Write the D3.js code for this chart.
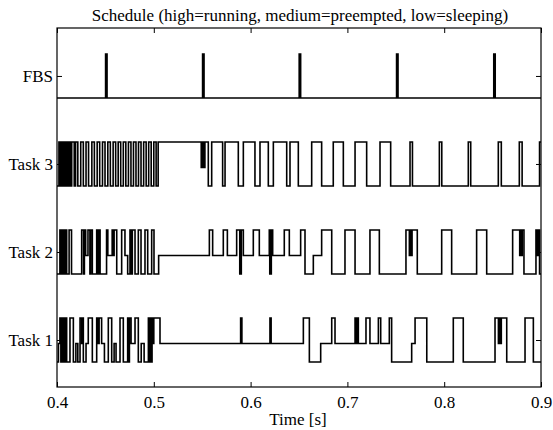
<!DOCTYPE html>
<html>
<head>
<meta charset="utf-8">
<script src="https://cdn.jsdelivr.net/npm/d3@7"></script>
<style>
  html, body { margin: 0; padding: 0; background: #fff; }
  svg { display: block; }
  text { font-family: "Liberation Serif", "Times New Roman", serif; fill: #000; }
</style>
</head>
<body>
<svg id="chart" width="553" height="430"></svg>
<script>
// ---- data ----
const rowLabels = ["Task 1", "Task 2", "Task 3", "FBS"];
const rowValues = [1, 2, 3, 4];
const xTicks = [0.4, 0.5, 0.6, 0.7, 0.8, 0.9];
const titleText = "Schedule (high=running, medium=preempted, low=sleeping)";
const xLabelText = "Time [s]";
// level codes: 0 = low (sleeping), 1 = medium (preempted), 2 = high (running)
const levelOffsets = [-0.25, -0.04, 0.25];

const fbs = [[0.4000,0],[0.4502,2],[0.4517,0],[0.5504,2],[0.5519,0],[0.6502,2],[0.6517,0],[0.7508,2],[0.7523,0],[0.8512,2],[0.8527,0]];

const task3 = [[0.4000,0],[0.4020,2],[0.4032,0],[0.4040,2],[0.4052,0],[0.4060,2],[0.4072,0],[0.4080,2],[0.4095,0],[0.4103,2],[0.4118,0],[0.4128,2],[0.4140,0],[0.4152,2],[0.4178,0],[0.4192,2],[0.4215,0],
 [0.4245,2],[0.4272,0],[0.4300,2],[0.4326,0],[0.4360,2],[0.4386,0],[0.4415,2],[0.4441,0],[0.4470,2],[0.4496,0],[0.4525,2],[0.4551,0],[0.4580,2],[0.4606,0],[0.4632,2],[0.4658,0],[0.4685,2],[0.4711,0],[0.4738,2],[0.4764,0],[0.4790,2],[0.4816,0],[0.4842,2],[0.4868,0],[0.4895,2],[0.4921,0],[0.4947,2],[0.4973,0],[0.5000,2],[0.5024,0],[0.5045,2],
 [0.5490,1],[0.5496,2],[0.5500,1],[0.5506,2],[0.5510,1],[0.5516,2],[0.5520,1],[0.5528,2],
 [0.5563,0],[0.5598,2],[0.5711,0],[0.5736,2],[0.5873,0],[0.5925,2],[0.6045,0],[0.6097,2],[0.6183,0],[0.6235,2],[0.6373,0],[0.6407,2],[0.6493,0],[0.6631,2],[0.6734,0],[0.6854,2],[0.6958,0],[0.7079,2],[0.7199,0],[0.7337,2],[0.7447,0],
 [0.7647,2],[0.7672,0],[0.7950,2],[0.7975,0],[0.8249,2],[0.8274,0],[0.8559,2],[0.8590,0],[0.8776,2],[0.8805,0],[0.8985,2]];

const task2 = [[0.4000,0],[0.4030,2],[0.4040,0],[0.4048,2],[0.4060,0],[0.4068,2],[0.4080,0],[0.4088,2],[0.4100,0],
 [0.4125,2],[0.4150,0],
 [0.4255,2],[0.4275,0],[0.4283,2],[0.4296,1],[0.4320,2],[0.4340,0],[0.4348,2],[0.4365,0],
 [0.4410,2],[0.4425,0],[0.4432,2],[0.4445,0],
 [0.4512,2],[0.4525,1],[0.4570,2],[0.4580,1],[0.4590,2],[0.4617,0],
 [0.4668,2],[0.4702,1],[0.4730,0],[0.4754,2],[0.4768,0],[0.4778,2],[0.4806,0],
 [0.4840,2],[0.4868,0],[0.4909,2],[0.4937,0],[0.4978,2],[0.5002,0],[0.5050,1],
 [0.5574,2],[0.5608,1],[0.5718,2],[0.5760,1],[0.5856,2],[0.5888,0],[0.5894,2],[0.5898,0],[0.5904,2],[0.5925,1],[0.6028,2],[0.6090,1],
 [0.6193,2],[0.6198,0],[0.6204,2],[0.6208,0],[0.6214,2],[0.6228,1],[0.6348,2],[0.6400,1],[0.6517,2],[0.6562,0],[0.6648,1],[0.6734,2],[0.6838,0],[0.6975,2],[0.7079,0],
 [0.7233,2],[0.7330,0],[0.7605,2],[0.7640,1],[0.7648,2],[0.7658,1],[0.7668,2],[0.7722,0],[0.7974,2],[0.8077,0],[0.8335,2],[0.8439,0],
 [0.8707,2],[0.8780,1],[0.8788,2],[0.8798,1],[0.8806,2],[0.8824,0],[0.8948,2],[0.8960,1],[0.8970,2],[0.8985,0]];

const task1 = [[0.4000,0],[0.4015,1],[0.4030,2],[0.4040,0],[0.4048,2],[0.4058,0],[0.4066,2],[0.4078,0],[0.4086,2],[0.4100,0],
 [0.4134,2],[0.4169,0],[0.4195,1],[0.4215,0],
 [0.4238,2],[0.4255,1],[0.4262,2],[0.4272,0],[0.4300,1],[0.4323,2],[0.4365,0],
 [0.4410,2],[0.4425,1],[0.4435,2],[0.4461,1],[0.4490,0],
 [0.4530,2],[0.4565,0],[0.4590,1],[0.4610,0],[0.4651,2],[0.4685,0],
 [0.4730,2],[0.4740,0],[0.4748,2],[0.4765,1],[0.4806,2],[0.4840,0],
 [0.4870,1],[0.4900,0],[0.4944,2],[0.4955,0],[0.4962,2],[0.4975,0],[0.4982,2],[0.4995,1],[0.5000,2],[0.5064,1],
 [0.5897,2],[0.5910,1],[0.6200,2],[0.6212,1],[0.6545,2],[0.6607,0],[0.6724,1],[0.6838,2],[0.6872,1],
 [0.7079,2],[0.7090,1],[0.7100,2],[0.7113,1],[0.7192,2],[0.7233,1],[0.7320,2],[0.7344,1],[0.7433,2],[0.7457,0],
 [0.7664,1],[0.7699,2],[0.7820,0],[0.8094,2],[0.8197,0],[0.8525,2],[0.8560,1],[0.8570,2],[0.8580,1],[0.8590,2],[0.8646,0],
 [0.8835,2],[0.8921,0]];

const seriesList = [
  { name: "Task 1", row: 1, data: task1 },
  { name: "Task 2", row: 2, data: task2 },
  { name: "Task 3", row: 3, data: task3 },
  { name: "FBS",    row: 4, data: fbs }
];

// ---- layout ----
const svg = d3.select("#chart");
const mL = 57, mR = 541, mT = 28, mB = 387;
const x = d3.scaleLinear().domain([0.4, 0.9]).range([mL, mR]);
const y = d3.scaleLinear().domain([0.466, 4.545]).range([mB, mT]);

const line = d3.line()
  .x(d => x(d.t))
  .y(d => y(d.v))
  .curve(d3.curveStepAfter);

seriesList.forEach(s => {
  const pts = s.data.map(([t, lv]) => ({ t: t, v: s.row + levelOffsets[lv] }));
  const last = s.data[s.data.length - 1];
  pts.push({ t: 0.9, v: s.row + levelOffsets[last[1]] });
  svg.append("path")
    .datum(pts)
    .attr("fill", "none")
    .attr("stroke", "#000")
    .attr("stroke-width", 1.6)
    .attr("stroke-linejoin", "miter")
    .attr("d", line);
});

// frame
svg.append("rect")
  .attr("x", mL).attr("y", mT)
  .attr("width", mR - mL).attr("height", mB - mT)
  .attr("fill", "none").attr("stroke", "#000").attr("stroke-width", 1.2);

const fontSize = 17;
const xAxisB = svg.append("g").attr("transform", `translate(0,${mB})`)
  .call(d3.axisBottom(x).tickValues(xTicks).tickSize(-5).tickPadding(9).tickFormat(d3.format(".1f")));
const xAxisT = svg.append("g").attr("transform", `translate(0,${mT})`)
  .call(d3.axisTop(x).tickValues(xTicks).tickSize(-5).tickFormat(""));
const yAxisL = svg.append("g").attr("transform", `translate(${mL},0)`)
  .call(d3.axisLeft(y).tickValues(rowValues).tickSize(-5).tickPadding(4).tickFormat((d, i) => rowLabels[i]));
const yAxisR = svg.append("g").attr("transform", `translate(${mR},0)`)
  .call(d3.axisRight(y).tickValues(rowValues).tickSize(-5).tickFormat(""));

[xAxisB, xAxisT, yAxisL, yAxisR].forEach(g => {
  g.select(".domain").remove();
  g.selectAll(".tick line").attr("stroke", "#000").attr("stroke-width", 1);
  g.selectAll("text").attr("font-family", "Liberation Serif, serif").attr("font-size", fontSize).attr("fill", "#000");
});

svg.append("text")
  .attr("x", (mL + mR) / 2 + 1).attr("y", 21)
  .attr("text-anchor", "middle").attr("font-size", fontSize)
  .text(titleText);

svg.append("text")
  .attr("x", 298).attr("y", 425)
  .attr("text-anchor", "middle").attr("font-size", fontSize)
  .text(xLabelText);
</script>
</body>
</html>
